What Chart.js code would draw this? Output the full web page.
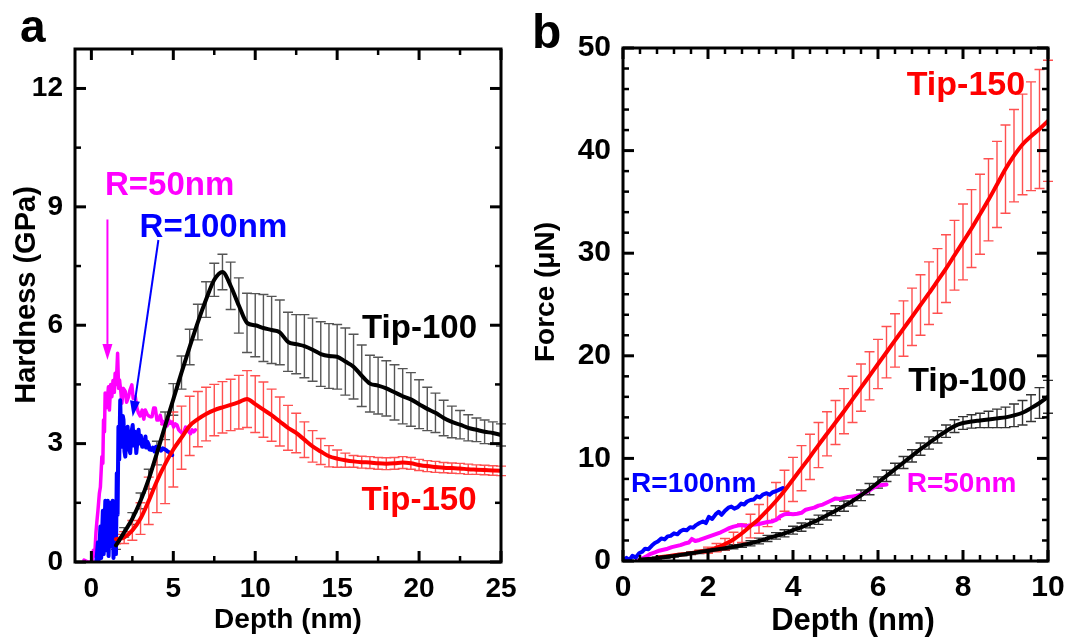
<!DOCTYPE html>
<html>
<head>
<meta charset="utf-8">
<title>Hardness and force vs depth</title>
<script src="https://cdn.jsdelivr.net/npm/chart.js@4.4.1/dist/chart.umd.min.js"></script>
<style>
  html, body { margin: 0; padding: 0; background: #fff; }
  #wrap { position: relative; width: 1083px; height: 638px; overflow: hidden; background: #fff; }
  #chartA { position: absolute; left: 0; top: 0; }
  #chartB { position: absolute; left: 500px; top: 0; }
</style>
</head>
<body>
<div id="wrap">
  <canvas id="chartA" width="540" height="638"></canvas>
  <canvas id="chartB" width="583" height="638"></canvas>
</div>
<script>
// ---------- panel a : hardness (GPa) vs depth (nm) ----------
const aXTicks = [0, 5, 10, 15, 20, 25];
const aYTicks = [0, 3, 6, 9, 12];

const aDepthTip = [1.5, 2, 2.5, 3, 3.5, 4, 4.5, 5, 5.5, 6, 6.5, 7, 7.5, 8, 8.5, 9, 9.5, 10, 10.5, 11,
  11.5, 12, 12.5, 13, 13.5, 14, 14.5, 15, 15.5, 16, 16.5, 17, 17.5, 18, 18.5, 19, 19.5, 20, 20.5, 21,
  21.5, 22, 22.5, 23, 23.5, 24, 24.5, 25];
const aTip100 = [0.42, 0.75, 1.1, 1.55, 2.1, 2.76, 3.45, 4.12, 4.8, 5.45, 6.08, 6.65, 7.15, 7.35, 7.0, 6.5, 6.06, 6.0, 5.93, 5.88,
  5.82, 5.58, 5.52, 5.47, 5.38, 5.27, 5.22, 5.2, 5.08, 4.95, 4.72, 4.52, 4.47, 4.4, 4.3, 4.2, 4.12, 4.0, 3.88, 3.78,
  3.65, 3.55, 3.48, 3.4, 3.35, 3.3, 3.27, 3.22];
const aTip100Err = [0.1, 0.12, 0.15, 0.2, 0.25, 0.3, 0.35, 0.4, 0.42, 0.45, 0.45, 0.45, 0.42, 0.45, 0.6, 0.7, 0.75, 0.8, 0.85, 0.85,
  0.82, 0.75, 0.75, 0.8, 0.8, 0.82, 0.82, 0.82, 0.85, 0.82, 0.78, 0.72, 0.72, 0.7, 0.7, 0.7, 0.68, 0.62, 0.55, 0.5,
  0.45, 0.4, 0.36, 0.33, 0.3, 0.3, 0.28, 0.28];
const aTip150 = [0.58, 0.62, 0.8, 1.1, 1.55, 2.05, 2.48, 2.85, 3.15, 3.45, 3.62, 3.75, 3.85, 3.92, 3.98, 4.05, 4.13, 4.0, 3.86, 3.72,
  3.56, 3.4, 3.27, 3.1, 2.93, 2.8, 2.68, 2.62, 2.58, 2.55, 2.53, 2.52, 2.5, 2.49, 2.5, 2.52, 2.5, 2.46, 2.43, 2.41,
  2.39, 2.38, 2.37, 2.35, 2.34, 2.33, 2.32, 2.31];
const aTip150Err = [0.12, 0.15, 0.25, 0.4, 0.6, 0.8, 1.0, 0.95, 0.8, 0.75, 0.7, 0.68, 0.65, 0.65, 0.65, 0.68, 0.72, 0.72, 0.7, 0.66,
  0.62, 0.57, 0.5, 0.45, 0.4, 0.33, 0.27, 0.22, 0.18, 0.15, 0.15, 0.15, 0.15, 0.15, 0.15, 0.15, 0.15, 0.14, 0.14, 0.14,
  0.13, 0.13, 0.13, 0.13, 0.12, 0.12, 0.12, 0.12];

const aDepthR50 = [-0.45, -0.2, 0.05, 0.12, 0.2, 0.28, 0.33, 0.4, 0.49, 0.55, 0.64, 0.7, 0.74, 0.8, 0.84, 0.9, 0.97, 1.04, 1.1, 1.18,
  1.25, 1.32, 1.4, 1.45, 1.52, 1.6, 1.66, 1.72, 1.8, 1.86, 1.95, 2.07, 2.15, 2.27, 2.35, 2.47, 2.55, 2.68, 2.78, 2.88,
  2.98, 3.1, 3.2, 3.29, 3.4, 3.5, 3.6, 3.7, 3.8, 3.9, 4.0, 4.1, 4.2, 4.32, 4.42, 4.52, 4.62, 4.72, 4.82, 4.92,
  5.02, 5.12, 5.23, 5.33, 5.44, 5.54, 5.65, 5.75, 5.85, 5.95, 6.05, 6.15, 6.25, 6.35];
const aR50 = [0.05, 0.0, 0.0, 0.3, 0.15, 0.75, 1.0, 1.3, 1.75, 1.9, 2.67, 2.5, 3.6, 3.3, 4.28, 3.9, 4.1, 4.44, 3.85, 4.5,
  4.19, 4.6, 4.3, 4.78, 4.5, 5.29, 4.4, 4.61, 4.3, 4.02, 4.4, 4.32, 4.05, 4.19, 4.35, 4.49, 4.15, 4.19, 3.9, 3.77,
  3.7, 3.85, 3.62, 3.85, 3.75, 3.7, 3.68, 3.68, 3.9, 3.9, 3.6, 3.6, 3.72, 3.5, 3.56, 3.56, 3.45, 3.6, 3.52, 3.55,
  3.42, 3.5, 3.47, 3.35, 3.3, 3.26, 3.3, 3.42, 3.39, 3.3, 3.25, 3.35, 3.3, 3.35];

const aDepthR100 = [0.3, 0.4, 0.45, 0.55, 0.6, 0.7, 0.75, 0.85, 0.9, 1.0, 1.05, 1.15, 1.2, 1.3, 1.35, 1.45, 1.5, 1.55, 1.6, 1.65,
  1.7, 1.76, 1.82, 1.86, 1.92, 1.96, 2.02, 2.07, 2.14, 2.21, 2.28, 2.37, 2.45, 2.52, 2.6, 2.67, 2.74, 2.82, 2.88, 2.94,
  3.02, 3.1, 3.15, 3.22, 3.3, 3.35, 3.42, 3.5, 3.55, 3.65, 3.75, 3.85, 3.95, 4.05, 4.15, 4.25, 4.35, 4.45, 4.55, 4.65,
  4.75, 4.85, 4.93];
const aR100 = [0, 0.5, 0.05, 0.9, 0.1, 1.3, 0.2, 1.55, 0.3, 1.55, 0.15, 1.5, 0.4, 1.55, 0.1, 1.5, 0.2, 2.25, 1.2, 3.43,
  2.6, 4.1, 3.0, 2.92, 3.7, 3.6, 2.8, 2.67, 3.2, 3.43, 2.9, 2.76, 3.3, 3.47, 2.95, 3.3, 2.76, 3.1, 3.35, 3.0,
  3.2, 2.92, 3.1, 2.95, 3.18, 2.9, 3.05, 2.97, 2.85, 2.84, 2.9, 2.8, 2.92, 2.85, 2.88, 2.82, 2.88, 2.86, 2.84, 2.8,
  2.78, 2.74, 2.71];

// ---------- panel b : force (uN) vs depth (nm) ----------
const bXTicks = [0, 2, 4, 6, 8, 10];
const bYTicks = [0, 10, 20, 30, 40, 50];

const bDepthTip150 = [0.8, 1, 1.2, 1.4, 1.6, 1.8, 2, 2.2, 2.4, 2.6, 2.8, 3, 3.2, 3.4, 3.6, 3.8, 4, 4.2, 4.4, 4.6,
  4.8, 5, 5.2, 5.4, 5.6, 5.8, 6, 6.2, 6.4, 6.6, 6.8, 7, 7.2, 7.4, 7.6, 7.8, 8, 8.2, 8.4, 8.6,
  8.8, 9, 9.2, 9.4, 9.6, 9.8, 10];
const bTip150 = [0.35, 0.45, 0.55, 0.65, 0.75, 0.9, 1.05, 1.3, 1.65, 2.1, 2.7, 3.4, 4.1, 4.95, 5.85, 6.85, 7.95, 9.05, 10.15, 11.3,
  12.4, 13.5, 14.6, 15.75, 16.9, 18.05, 19.2, 20.35, 21.5, 22.65, 23.8, 24.95, 26.1, 27.3, 28.5, 29.8, 31.1, 32.4, 33.8, 35.2,
  36.7, 38.2, 39.5, 40.6, 41.4, 42.1, 42.9];
const bTip150Err = [0, 0, 0, 0, 0, 0.15, 0.3, 0.4, 0.55, 0.7, 0.9, 1.15, 1.4, 1.6, 1.8, 2.0, 2.15, 2.2, 2.2, 2.2,
  2.15, 2.15, 2.2, 2.25, 2.3, 2.35, 2.4, 2.5, 2.6, 2.7, 2.8, 2.95, 3.05, 3.15, 3.3, 3.4, 3.7, 3.8, 3.9, 4.0,
  4.2, 4.3, 4.5, 4.9, 5.3, 5.8, 5.9];

const bDepthTip100 = [0.4, 0.6, 0.8, 1, 1.2, 1.4, 1.6, 1.8, 2, 2.2, 2.4, 2.6, 2.8, 3, 3.2, 3.4, 3.6, 3.8, 4, 4.2,
  4.4, 4.6, 4.8, 5, 5.2, 5.4, 5.6, 5.8, 6, 6.2, 6.4, 6.6, 6.8, 7, 7.2, 7.4, 7.6, 7.8, 8, 8.2,
  8.4, 8.6, 8.8, 9, 9.2, 9.4, 9.6, 9.8, 10];
const bTip100 = [0.12, 0.2, 0.28, 0.38, 0.5, 0.62, 0.75, 0.88, 1.0, 1.12, 1.25, 1.38, 1.55, 1.72, 1.95, 2.2, 2.45, 2.7, 3.0, 3.3,
  3.65, 4.02, 4.45, 4.9, 5.35, 5.85, 6.4, 7.0, 7.65, 8.3, 8.95, 9.6, 10.25, 10.9, 11.5, 12.1, 12.65, 13.15, 13.45, 13.6,
  13.7, 13.8, 13.9, 14.0, 14.2, 14.45, 14.9, 15.4, 16.0];
const bTip100Err = [0.05, 0.05, 0.08, 0.1, 0.1, 0.12, 0.12, 0.15, 0.15, 0.18, 0.2, 0.2, 0.22, 0.25, 0.28, 0.3, 0.32, 0.35, 0.38, 0.4,
  0.42, 0.45, 0.45, 0.48, 0.5, 0.5, 0.52, 0.55, 0.55, 0.55, 0.58, 0.58, 0.6, 0.6, 0.6, 0.6, 0.6, 0.62, 0.62, 0.65,
  0.7, 0.8, 0.9, 1.0, 1.1, 1.2, 1.3, 1.5, 1.6];

const bDepthR100 = [0.0, 0.08, 0.15, 0.22, 0.3, 0.38, 0.45, 0.52, 0.6, 0.68, 0.75, 0.82, 0.9, 0.98, 1.05, 1.12, 1.2, 1.28, 1.35, 1.42,
  1.5, 1.58, 1.65, 1.72, 1.8, 1.88, 1.95, 2.02, 2.1, 2.18, 2.25, 2.32, 2.4, 2.48, 2.55, 2.62, 2.7, 2.78, 2.85, 2.92,
  3.0, 3.08, 3.15, 3.22, 3.3, 3.38, 3.45, 3.52, 3.6, 3.68, 3.76];
const bR100 = [0.0, 0.3, 0.1, 0.5, 0.35, 0.75, 0.9, 1.2, 1.15, 1.5, 1.75, 1.9, 2.2, 2.1, 2.4, 2.45, 2.7, 2.6, 2.9, 3.05,
  3.0, 3.3, 3.25, 3.5, 3.7, 3.85, 3.7, 4.3, 4.1, 4.55, 4.8, 4.5, 4.9, 5.2, 5.3, 5.1, 5.25, 5.6, 5.5, 5.8,
  5.95, 6.0, 6.3, 6.2, 6.5, 6.6, 6.45, 6.7, 6.8, 6.95, 7.1];

const bDepthR50 = [0.35, 0.45, 0.55, 0.65, 0.75, 0.85, 0.95, 1.05, 1.15, 1.25, 1.35, 1.45, 1.55, 1.62, 1.7, 1.8, 1.9, 2.0, 2.1, 2.2,
  2.3, 2.4, 2.5, 2.6, 2.7, 2.8, 2.9, 3.0, 3.1, 3.2, 3.3, 3.4, 3.5, 3.6, 3.7, 3.8, 3.9, 4.0, 4.1, 4.2,
  4.3, 4.4, 4.5, 4.6, 4.7, 4.8, 4.9, 5.0, 5.1, 5.2, 5.3, 5.4, 5.5, 5.6, 5.7, 5.8, 5.9, 6.0, 6.1, 6.2];
const bR50 = [0.0, 0.25, 0.45, 0.7, 0.85, 1.0, 1.1, 1.2, 1.35, 1.45, 1.55, 1.7, 1.8, 2.15, 1.95, 2.05, 2.2, 2.35, 2.5, 2.65,
  2.8, 3.0, 3.2, 3.35, 3.45, 3.5, 3.4, 3.5, 3.55, 3.6, 3.7, 3.8, 3.85, 4.0, 4.35, 4.55, 4.6, 4.55, 4.6, 4.7,
  5.0, 5.1, 5.2, 5.4, 5.5, 5.7, 5.9, 6.1, 6.05, 6.15, 6.25, 6.3, 6.35, 6.5, 6.65, 6.9, 7.15, 7.35, 7.4, 7.45];

const FONT = '"Liberation Sans", Arial, Helvetica, sans-serif';
const RED = '#ff0000', BLUE = '#0000ff', MAGENTA = '#ff00ff';

function pts(xs, ys) {
  return xs.map((x, i) => ({ x: x, y: ys[i] }));
}

function series(xs, ys, color, width, extra) {
  return Object.assign({
    data: pts(xs, ys),
    borderColor: color,
    borderWidth: width,
    pointRadius: 0,
    fill: false,
    tension: 0
  }, extra || {});
}

// vertical error bars with caps, drawn under the lines
const errorBars = {
  id: 'errorBars',
  beforeDatasetsDraw(chart) {
    const { ctx, scales: { x, y } } = chart;
    ctx.save();
    chart.data.datasets.forEach(ds => {
      if (!ds.errors) return;
      ctx.strokeStyle = ds.errColor;
      ctx.lineWidth = 1.4;
      const w = ds.capW / 2;
      ds.data.forEach((p, i) => {
        const e = ds.errors[i];
        if (!e) return;
        const px = x.getPixelForValue(p.x);
        const top = y.getPixelForValue(p.y + e);
        const bot = y.getPixelForValue(p.y - e);
        ctx.beginPath();
        ctx.moveTo(px, top); ctx.lineTo(px, bot);
        ctx.moveTo(px - w, top); ctx.lineTo(px + w, top);
        ctx.moveTo(px - w, bot); ctx.lineTo(px + w, bot);
        ctx.stroke();
      });
    });
    ctx.restore();
  }
};

// box frame with inward major/minor ticks on all four sides
const frame = {
  id: 'frame',
  afterDatasetsDraw(chart, args, o) {
    const { ctx, chartArea: a, scales: { x, y } } = chart;
    ctx.save();
    ctx.strokeStyle = '#000';
    ctx.lineCap = 'butt';
    const seg = (x0, y0, x1, y1, w) => {
      ctx.lineWidth = w;
      ctx.beginPath(); ctx.moveTo(x0, y0); ctx.lineTo(x1, y1); ctx.stroke();
    };
    const isMajor = (scale, v) => scale.ticks.some(t => Math.abs(t.value - v) < 1e-6);
    const tickX = (v, len, w) => {
      const p = x.getPixelForValue(v);
      seg(p, a.bottom, p, a.bottom - len, w);
      seg(p, a.top, p, a.top + len, w);
    };
    const tickY = (v, len, w) => {
      const p = y.getPixelForValue(v);
      seg(a.left, p, a.left + len, p, w);
      seg(a.right, p, a.right - len, p, w);
    };
    for (let v = Math.ceil(x.min / o.minorX) * o.minorX; v <= x.max + 1e-9; v += o.minorX) {
      const r = Math.round(v * 1000) / 1000;
      if (!isMajor(x, r)) tickX(r, 6, 2.5);
    }
    for (let v = Math.ceil(y.min / o.minorY) * o.minorY; v <= y.max + 1e-9; v += o.minorY) {
      const r = Math.round(v * 1000) / 1000;
      if (!isMajor(y, r)) tickY(r, 6, 2.5);
    }
    x.ticks.forEach(t => tickX(t.value, 11, 3));
    y.ticks.forEach(t => tickY(t.value, 11, 3));
    ctx.lineWidth = 3;
    ctx.strokeRect(a.left, a.top, a.right - a.left, a.bottom - a.top);
    ctx.restore();
  }
};

// panel letter, axis titles, arrows and in-plot labels
const decor = {
  id: 'decor',
  afterDraw(chart, args, o) {
    const { ctx, scales: { x, y } } = chart;
    ctx.save();
    ctx.fillStyle = '#000';
    ctx.textAlign = 'left';
    ctx.textBaseline = 'alphabetic';
    ctx.font = 'bold ' + o.letter.size + 'px ' + FONT;
    ctx.fillText(o.letter.text, o.letter.x, o.letter.y);

    ctx.textAlign = 'center';
    ctx.textBaseline = 'middle';
    ctx.font = 'bold ' + o.xTitle.size + 'px ' + FONT;
    ctx.fillText(o.xTitle.text, o.xTitle.x, o.xTitle.y);
    ctx.save();
    ctx.translate(o.yTitle.x, o.yTitle.y);
    ctx.rotate(-Math.PI / 2);
    ctx.font = 'bold ' + o.yTitle.size + 'px ' + FONT;
    ctx.fillText(o.yTitle.text, 0, 0);
    ctx.restore();

    (o.arrows || []).forEach(ar => {
      const x0 = x.getPixelForValue(ar.x0), y0 = y.getPixelForValue(ar.y0);
      const x1 = x.getPixelForValue(ar.x1), y1 = y.getPixelForValue(ar.y1);
      const ang = Math.atan2(y1 - y0, x1 - x0);
      const head = 16, half = 5;
      const bx = x1 - head * Math.cos(ang), by = y1 - head * Math.sin(ang);
      ctx.strokeStyle = ar.color;
      ctx.fillStyle = ar.color;
      ctx.lineWidth = 2;
      ctx.beginPath(); ctx.moveTo(x0, y0); ctx.lineTo(bx, by); ctx.stroke();
      ctx.beginPath();
      ctx.moveTo(x1, y1);
      ctx.lineTo(bx + half * Math.sin(ang), by - half * Math.cos(ang));
      ctx.lineTo(bx - half * Math.sin(ang), by + half * Math.cos(ang));
      ctx.closePath();
      ctx.fill();
    });

    ctx.textAlign = 'left';
    ctx.textBaseline = 'alphabetic';
    o.notes.forEach(n => {
      ctx.font = 'bold ' + n.size + 'px ' + FONT;
      ctx.fillStyle = n.color;
      ctx.fillText(n.text, x.getPixelForValue(n.x), y.getPixelForValue(n.y));
    });
    ctx.restore();
  }
};

function makeChart(id, c) {
  const tickFont = { family: FONT, size: c.tickSize, weight: 'bold' };
  return new Chart(document.getElementById(id), {
    type: 'line',
    data: { datasets: c.datasets },
    options: {
      responsive: false,
      animation: false,
      devicePixelRatio: 1,
      layout: { padding: c.pad },
      elements: { line: { borderJoinStyle: 'round', borderCapStyle: 'round' } },
      plugins: {
        legend: { display: false },
        tooltip: { enabled: false },
        frame: { minorX: c.minorX, minorY: c.minorY },
        decor: c.decor
      },
      scales: {
        x: {
          type: 'linear', min: c.xMin, max: c.xMax,
          afterBuildTicks: s => { s.ticks = c.xTicks.map(v => ({ value: v })); },
          afterFit: s => { s.height = c.xH; },
          ticks: { font: tickFont, color: '#000', padding: c.xPad, maxRotation: 0, autoSkip: false },
          grid: { display: false, drawTicks: false },
          border: { display: false }
        },
        y: {
          type: 'linear', min: c.yMin, max: c.yMax,
          afterBuildTicks: s => { s.ticks = c.yTicks.map(v => ({ value: v })); },
          afterFit: s => { s.width = c.yW; },
          ticks: { font: tickFont, color: '#000', padding: 12, autoSkip: false },
          grid: { display: false, drawTicks: false },
          border: { display: false }
        }
      }
    },
    plugins: [errorBars, frame, decor]
  });
}

makeChart('chartA', {
  datasets: [
    series(aDepthTip, aTip100, '#000', 4, { errors: aTip100Err, errColor: '#555', capW: 10, cubicInterpolationMode: 'monotone' }),
    series(aDepthTip, aTip150, RED, 4, { errors: aTip150Err, errColor: '#ff5050', capW: 10, cubicInterpolationMode: 'monotone' }),
    series(aDepthR100, aR100, BLUE, 4),
    series(aDepthR50, aR50, MAGENTA, 3.5)
  ],
  xMin: -1, xMax: 25, yMin: 0, yMax: 13,
  xTicks: aXTicks, yTicks: aYTicks,
  minorX: 2.5, minorY: 1.5,
  pad: { left: 0, top: 49, right: 39, bottom: 0 },
  yW: 75, xH: 76, xPad: 10, tickSize: 28,
  decor: {
    letter: { text: 'a', x: 20, y: 42, size: 46 },
    xTitle: { text: 'Depth (nm)', x: 288, y: 620, size: 28 },
    yTitle: { text: 'Hardness (GPa)', x: 27, y: 295, size: 29 },
    arrows: [
      { x0: 0.98, y0: 8.68, x1: 0.98, y1: 5.12, color: MAGENTA },
      { x0: 4.09, y0: 8.16, x1: 2.52, y1: 3.68, color: BLUE }
    ],
    notes: [
      { text: 'R=50nm', x: 0.83, y: 9.31, size: 33, color: MAGENTA },
      { text: 'R=100nm', x: 2.94, y: 8.24, size: 33, color: BLUE },
      { text: 'Tip-100', x: 16.52, y: 5.67, size: 33, color: '#000' },
      { text: 'Tip-150', x: 16.49, y: 1.32, size: 33, color: RED }
    ]
  }
});

makeChart('chartB', {
  datasets: [
    series(bDepthTip100, bTip100, '#000', 4, { errors: bTip100Err, errColor: '#333', capW: 10, cubicInterpolationMode: 'monotone' }),
    series(bDepthTip150, bTip150, RED, 4, { errors: bTip150Err, errColor: '#ff5050', capW: 10, cubicInterpolationMode: 'monotone' }),
    series(bDepthR100, bR100, BLUE, 4),
    series(bDepthR50, bR50, MAGENTA, 4)
  ],
  xMin: 0, xMax: 10, yMin: 0, yMax: 50,
  xTicks: bXTicks, yTicks: bYTicks,
  minorX: 0.4, minorY: 2,
  pad: { left: 0, top: 48, right: 35, bottom: 0 },
  yW: 123, xH: 77, xPad: 9, tickSize: 30,
  decor: {
    letter: { text: 'b', x: 32, y: 48, size: 48 },
    xTitle: { text: 'Depth (nm)', x: 353, y: 621, size: 31 },
    yTitle: { text: 'Force (\u03BCN)', x: 46, y: 292, size: 28 },
    notes: [
      { text: 'Tip-150', x: 6.675, y: 45.4, size: 34, color: RED },
      { text: 'Tip-100', x: 6.71, y: 16.57, size: 34, color: '#000' },
      { text: 'R=100nm', x: 0.19, y: 6.72, size: 28, color: BLUE },
      { text: 'R=50nm', x: 6.675, y: 6.72, size: 28, color: MAGENTA }
    ]
  }
});
</script>
</body>
</html>
